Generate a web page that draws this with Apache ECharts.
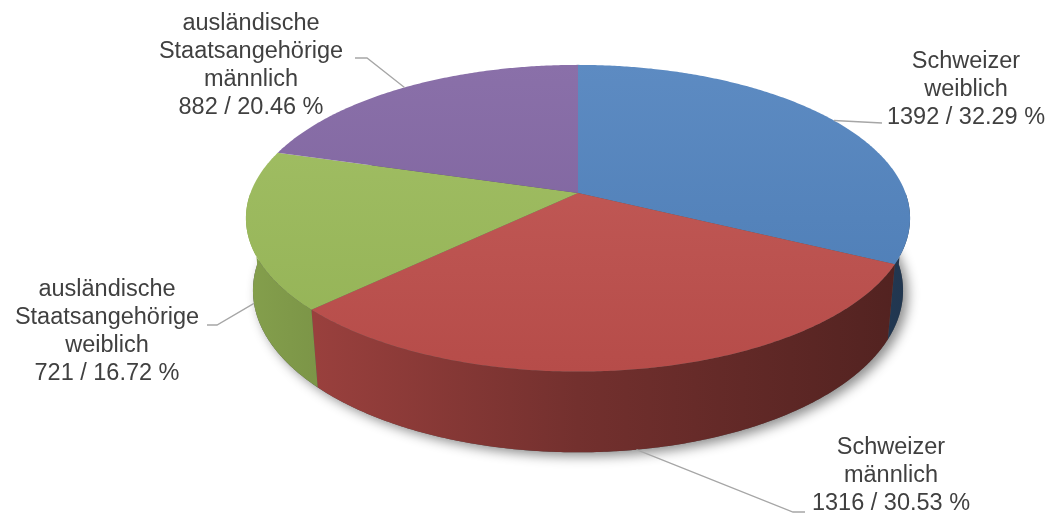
<!DOCTYPE html>
<html>
<head>
<meta charset="utf-8">
<title>3D Pie</title>
<script src="https://cdn.jsdelivr.net/npm/echarts@6/dist/echarts.min.js"></script>
<style>
  html, body { margin: 0; padding: 0; background: #fff; }
  #chart { width: 1051px; height: 518px; }
</style>
</head>
<body>
<div id="chart"></div>
<script>
// data
const categories = ['Schweizer\nweiblich', 'Schweizer\nmännlich', 'ausländische\nStaatsangehörige\nweiblich', 'ausländische\nStaatsangehörige\nmännlich'];
const values = [1392, 1316, 721, 882];
const colors = ['#4f81bd', '#c0504d', '#9bbb59', '#8064a2'];

// where Excel put the labels: text centre, knee of leader line, end of leader line
const labelLayout = [
    {at: [966, 90], knee: [882, 123], end: [882, 123]},
    {at: [891, 476], knee: [793, 512], end: [805, 512]},
    {at: [107, 332], knee: [217, 325], end: [207, 325]},
    {at: [251, 66], knee: [367, 58], end: [355, 58]}
];

const total = values.reduce((a, b) => a + b, 0);
const startAngles = [];
values.reduce((acc, v, i) => { startAngles[i] = acc / total * Math.PI * 2; return acc + v; }, 0);

// simple perspective camera for a tilted disc
const CX = 578, CY = 193, F = 1772, DIST = 5.41, TILT = 27.1 * Math.PI / 180, H = 0.25;
const ca = Math.cos(TILT), sa = Math.sin(TILT);

function proj(theta, y) {
    const x = Math.sin(theta), z = -Math.cos(theta);
    const yc = y * ca - z * sa;
    const zc = DIST - (z * ca + y * sa);
    return [CX + F * x / zc, CY - F * yc / zc];
}

function arc(a, b, y) {
    const pts = [];
    const n = Math.max(2, Math.ceil(Math.abs(b - a) / (Math.PI / 360)));
    for (let k = 0; k <= n; k++) {
        pts.push(proj(a + (b - a) * k / n, y));
    }
    return pts;
}

function shade(hex, f) {
    const c = echarts.color.parse(hex);
    return 'rgb(' + Math.round(c[0] * f) + ',' + Math.round(c[1] * f) + ',' + Math.round(c[2] * f) + ')';
}

function renderItem(params, api) {
    const i = params.dataIndex;
    const a0 = startAngles[i];
    const a1 = a0 + api.value(0) / total * Math.PI * 2;
    const color = colors[i];
    const children = [];

    if (i === 0) {
        // soft shadow below the whole pie
        children.push({
            type: 'polygon',
            z2: 0,
            shape: {points: arc(0, Math.PI * 2, -H)},
            style: {
                fill: '#555',
                shadowBlur: 12,
                shadowOffsetX: 5,
                shadowOffsetY: 4,
                shadowColor: 'rgba(0,0,0,0.45)'
            }
        });
    }

    // visible side wall (front half)
    const w0 = Math.max(a0, Math.PI / 2), w1 = Math.min(a1, Math.PI * 1.5);
    if (w1 > w0) {
        const pts = arc(w0, w1, 0).concat(arc(w1, w0, -H));
        children.push({
            type: 'polygon',
            z2: 5,
            shape: {points: pts},
            style: {
                fill: new echarts.graphic.LinearGradient(248, 0, 908, 0, [
                    {offset: 0, color: shade(color, 0.85)},
                    {offset: 0.5, color: shade(color, 0.6)},
                    {offset: 1, color: shade(color, 0.42)}
                ], true)
            }
        });
    }

    // top face
    const top = [[CX, CY]].concat(arc(a0, a1, 0));
    children.push({
        type: 'polygon',
        z2: 10,
        shape: {points: top},
        style: {
            fill: new echarts.graphic.LinearGradient(0, 64, 0, 373, [
                {offset: 0, color: echarts.color.lift(color, 0.08)},
                {offset: 1, color: shade(color, 0.95)}
            ], true)
        }
    });

    // label + leader line
    const mid = (a0 + a1) / 2;
    const anchor = Math.cos(mid) < 0 ? proj(mid, -H) : proj(mid, 0);
    const lay = labelLayout[i];
    const pct = (api.value(0) / total * 100).toFixed(2);
    children.push({
        type: 'polyline',
        z2: 20,
        shape: {points: [anchor, lay.knee, lay.end]},
        style: {stroke: '#a6a6a6', lineWidth: 1.3, fill: null}
    });
    children.push({
        type: 'text',
        z2: 21,
        style: {
            text: categories[i] + '\n' + api.value(0) + ' / ' + pct + ' %',
            x: lay.at[0],
            y: lay.at[1],
            align: 'center',
            verticalAlign: 'middle',
            fontSize: 23.5,
            fontFamily: '"Liberation Sans", Arial, sans-serif',
            lineHeight: 28,
            fill: '#404040'
        }
    });

    return {type: 'group', children: children};
}

const chart = echarts.init(document.getElementById('chart'));
chart.setOption({
    animation: false,
    series: [{
        type: 'custom',
        coordinateSystem: 'none',
        renderItem: renderItem,
        data: values.map(v => [v])
    }]
});
</script>
</body>
</html>
